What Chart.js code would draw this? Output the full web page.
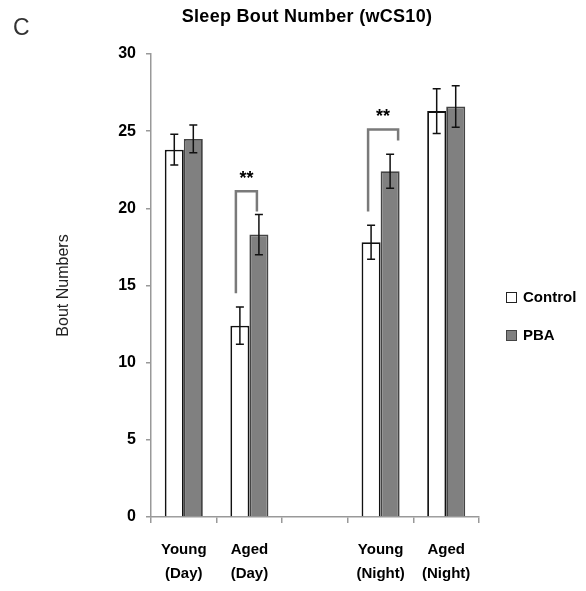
<!DOCTYPE html>
<html>
<head>
<meta charset="utf-8">
<script src="https://cdn.jsdelivr.net/npm/chart.js@4"></script>
<style>
  html, body { margin:0; padding:0; background:#fff; }
  #wrap { position:relative; width:586px; height:591px; }
  canvas { position:absolute; left:0; top:0; }
  .lbl { position:absolute; font-family:"Liberation Sans", Arial, sans-serif; color:#000; white-space:nowrap; }
  .panel { left:13px; top:14px; font-size:23px; color:#333; }
  .title { left:0; width:614px; top:6px; text-align:center; font-size:18px; font-weight:bold; letter-spacing:0.3px; }
  .leg { left:506px; font-size:15px; font-weight:bold; line-height:16px; }
  .leg i { display:inline-block; width:9px; height:9px; border:1.5px solid #222; margin-right:6px; vertical-align:-1px; }
</style>
</head>
<body>
<div id="wrap">
  <canvas id="chart" width="586" height="591"></canvas>
  <div class="lbl panel">C</div>
  <div class="lbl title">Sleep Bout Number (wCS10)</div>
  <div class="lbl leg" style="top:289px"><i style="background:#fff"></i>Control</div>
  <div class="lbl leg" style="top:327px"><i style="background:#808080;border-color:#444"></i>PBA</div>
</div>
<script>
// categories (third slot is the empty gap between day and night)
const categories = [['Young','(Day)'], ['Aged','(Day)'], '', ['Young','(Night)'], ['Aged','(Night)']];
const controlVals = [23.8, 12.4, null, 17.8, 26.3];
const controlErr  = [1.0, 1.2, null, 1.1, 1.45];
const pbaVals     = [24.5, 18.3, null, 22.4, 26.6];
const pbaErr      = [0.9, 1.3, null, 1.1, 1.35];
const yTicks = [0, 5, 10, 15, 20, 25, 30];

// significance brackets: category index, left leg bottom, top, right leg bottom, star level
const sigCats     = [1, 3];
const sigLeftLow  = [14.5, 19.8];
const sigTop      = [21.1, 25.1];
const sigRightLow = [19.8, 24.4];
const sigStarY    = [22.1, 26.1];

const errorBars = {
  id:'errorBars',
  afterDatasetsDraw(chart){
    const ctx = chart.ctx, y = chart.scales.y;
    const errs = [controlErr, pbaErr];
    ctx.save();
    ctx.strokeStyle = '#111';
    ctx.lineWidth = 1.5;
    chart.data.datasets.forEach((ds, di) => {
      chart.getDatasetMeta(di).data.forEach((bar, i) => {
        const v = ds.data[i], e = errs[di][i];
        if (v == null || e == null) return;
        const yt = y.getPixelForValue(v + e), yb = y.getPixelForValue(v - e);
        ctx.beginPath();
        ctx.moveTo(bar.x, yt); ctx.lineTo(bar.x, yb);
        ctx.moveTo(bar.x - 4, yt); ctx.lineTo(bar.x + 4, yt);
        ctx.moveTo(bar.x - 4, yb); ctx.lineTo(bar.x + 4, yb);
        ctx.stroke();
      });
    });
    ctx.restore();
  }
};

const brackets = {
  id:'brackets',
  afterDatasetsDraw(chart){
    const ctx = chart.ctx, y = chart.scales.y;
    const m0 = chart.getDatasetMeta(0).data, m1 = chart.getDatasetMeta(1).data;
    const offL = [-4, -3], offR = [-2, 8];
    ctx.save();
    sigCats.forEach((c, k) => {
      const xl = m0[c].x + offL[k], xr = m1[c].x + offR[k];
      ctx.strokeStyle = '#7a7a7a';
      ctx.lineWidth = 2.5;
      ctx.beginPath();
      ctx.moveTo(xl, y.getPixelForValue(sigLeftLow[k]));
      ctx.lineTo(xl, y.getPixelForValue(sigTop[k]));
      ctx.lineTo(xr, y.getPixelForValue(sigTop[k]));
      ctx.lineTo(xr, y.getPixelForValue(sigRightLow[k]));
      ctx.stroke();
      ctx.fillStyle = '#000';
      ctx.font = 'bold 18px "Liberation Sans", Arial, sans-serif';
      ctx.textAlign = 'center';
      ctx.textBaseline = 'middle';
      ctx.fillText('**', (xl + xr) / 2, y.getPixelForValue(sigStarY[k]) + 3);
    });
    ctx.restore();
  }
};

new Chart(document.getElementById('chart'), {
  type:'bar',
  data:{
    labels: categories,
    datasets:[
      { label:'Control', data: controlVals, backgroundColor:'#ffffff', borderColor:'#111', borderWidth:1.8,
        barPercentage:1.0, categoryPercentage:0.58 },
      { label:'PBA', data: pbaVals, backgroundColor:'#808080', borderColor:'#444', borderWidth:1.8,
        barPercentage:1.0, categoryPercentage:0.58 }
    ]
  },
  options:{
    responsive:false,
    animation:false,
    layout:{ padding:{ left:54, top:54, right:107, bottom:0 } },
    plugins:{ legend:{ display:false }, title:{ display:false }, tooltip:{ enabled:false } },
    scales:{
      x:{
        grid:{ offset:true, drawOnChartArea:false, drawTicks:true, tickLength:6, color:'#999', lineWidth:1.5 },
        border:{ color:'#999', width:1.5 },
        ticks:{ color:'#000', padding:15, font:{ family:'"Liberation Sans", Arial, sans-serif', size:15, weight:'bold', lineHeight:1.6 } },
        afterFit(s){ s.height = 74; }
      },
      y:{
        min:0, max:30,
        afterBuildTicks(s){ s.ticks = yTicks.map(v => ({ value:v })); },
        grid:{ drawOnChartArea:false, drawTicks:true, tickLength:5, color:'#999', lineWidth:1.5 },
        border:{ color:'#999', width:1.5 },
        ticks:{ color:'#000', padding:10, font:{ family:'"Liberation Sans", Arial, sans-serif', size:16, weight:'bold' } },
        title:{ display:true, text:'Bout Numbers', color:'#222', padding:{ top:0, bottom:0 },
                font:{ family:'"Liberation Sans", Arial, sans-serif', size:16 } },
        afterFit(s){ s.width = 97; }
      }
    }
  },
  plugins:[errorBars, brackets]
});
</script>
</body>
</html>
